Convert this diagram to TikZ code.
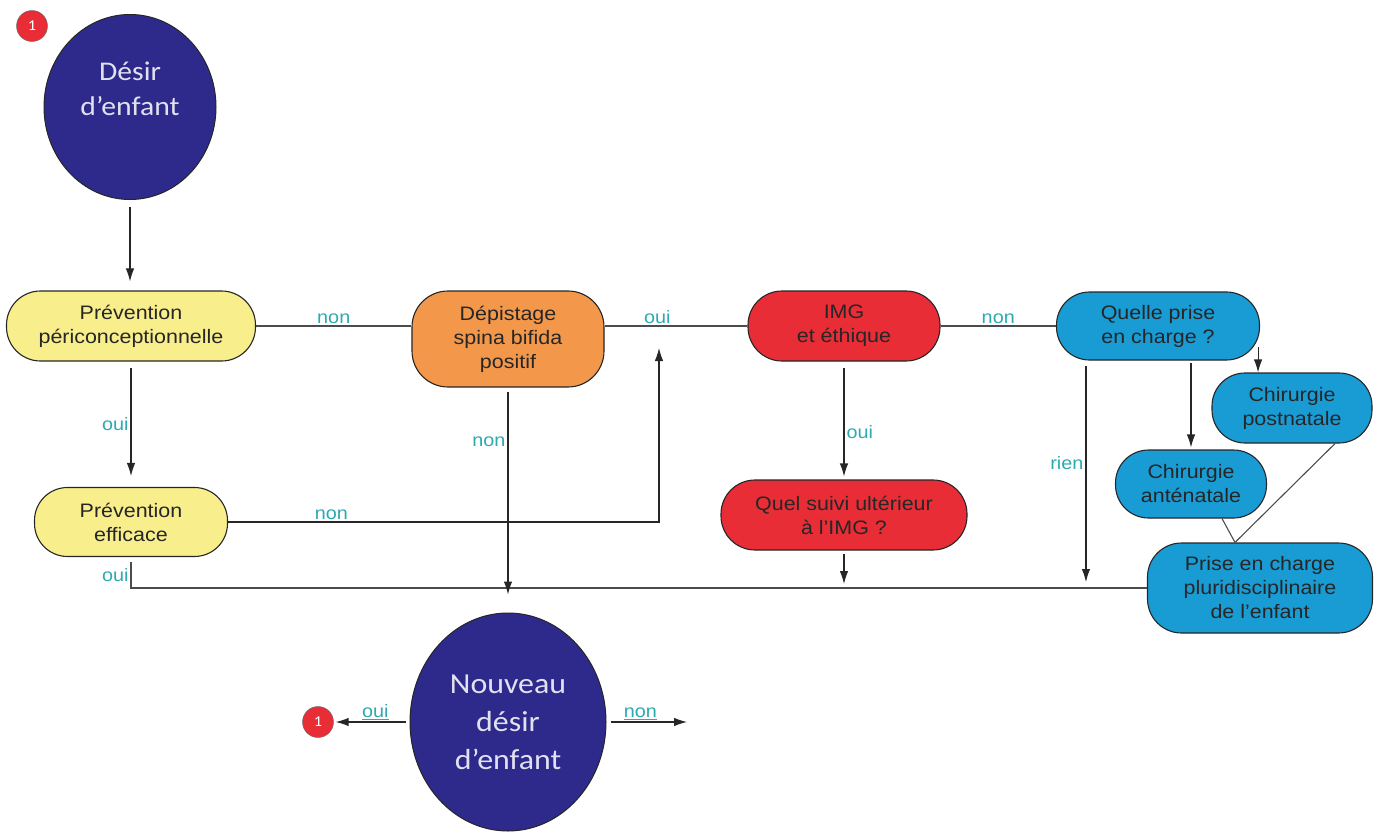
\documentclass[tikz,border=0pt]{standalone}
\usepackage{fontspec}
\setmainfont{Liberation Sans}[FakeStretch=1.1]
\newfontfamily\discfont{Carlito}[FakeStretch=1.1]
\usetikzlibrary{arrows.meta,positioning,shapes.geometric}
\definecolor{nightblue}{RGB}{45,42,140}
\definecolor{paleyellow}{RGB}{248,238,140}
\definecolor{orangebox}{RGB}{243,152,75}
\definecolor{redbox}{RGB}{232,45,55}
\definecolor{bluebox}{RGB}{25,155,212}
\definecolor{tealtext}{RGB}{45,170,175}
\definecolor{discwhite}{RGB}{225,225,240}
\tikzset{
  pill/.style={rectangle,draw=black!85,line width=1.1pt,align=center,
    text=black!85,inner sep=2pt,font=\fontsize{19.5}{24}\selectfont},
  disc/.style={ellipse,draw=black!85,line width=1pt,fill=nightblue,
    text=discwhite,align=center,inner sep=0pt},
  badge/.style={circle,draw=black!60,fill=redbox,text=white,inner sep=0pt,
    minimum size=31pt,font=\discfont\fontsize{15}{15}\selectfont},
  flow/.style={-{Latex[length=13pt,width=8.5pt]},line width=1.1pt,draw=black!85},
  link/.style={line width=1.1pt,draw=black!70},
  answer/.style={text=tealtext,inner sep=2pt,font=\fontsize{18}{18}\selectfont}}

\begin{document}
\begin{tikzpicture}[x=1pt,y=-1pt]
  \useasboundingbox (0,0) rectangle (1378,834);
  \node[disc,minimum width=172pt,minimum height=185pt,
    label={[text=discwhite,align=center,yshift=18pt,
      font=\discfont\fontsize{27}{35}\selectfont]center:Désir\\d’enfant}] (desir) at (130,107) {};
  \node[badge] (one) at (32,26) {1};
  \node[pill,fill=paleyellow,minimum width=249pt,minimum height=70pt,rounded corners=34pt] (peri) at (131,326) {Prévention\\périconceptionnelle};
  \node[pill,fill=paleyellow,minimum width=193pt,minimum height=69pt,rounded corners=33pt] (eff) at (131,522) {Prévention\\efficace};
  \node[pill,fill=orangebox,minimum width=192pt,minimum height=96pt,rounded corners=36pt] (dep) at (508,339) {Dépistage\\spina bifida\\positif};
  \node[pill,fill=redbox,minimum width=192pt,minimum height=70pt,rounded corners=34pt] (img) at (844,326) {IMG\\et éthique};
  \node[pill,fill=redbox,minimum width=246pt,minimum height=70pt,rounded corners=34pt] (suivi) at (844,515) {Quel suivi ultérieur\\à l'IMG ?};
  \node[pill,fill=bluebox,minimum width=203pt,minimum height=68pt,rounded corners=33pt] (quelle) at (1158,326) {Quelle prise\\en charge ?};
  \node[pill,fill=bluebox,minimum width=160pt,minimum height=70pt,rounded corners=33pt] (post) at (1292,408) {Chirurgie\\postnatale};
  \node[pill,fill=bluebox,minimum width=151pt,minimum height=68pt,rounded corners=33pt] (ante) at (1191,484) {Chirurgie\\anténatale};
  \node[pill,fill=bluebox,minimum width=225pt,minimum height=90pt,rounded corners=34pt] (prise) at (1260,588) {Prise en charge\\pluridisciplinaire\\de l'enfant};
  \node[disc,minimum width=196pt,minimum height=218pt,
    font=\discfont\fontsize{29}{38}\selectfont] (nouveau) at (508,722) {Nouveau\\désir\\d’enfant};
  \node[badge] (back) at (318,722) {1};
  \coordinate (merge) at (659,348);
  \coordinate (rientop) at ([xshift=30pt]quelle.south west);
  \coordinate (posttop) at ([shift={(-2,21)}]quelle.east);
  \coordinate (exit) at (687,722);
  \draw[flow,shorten <=7pt,shorten >=9pt] (desir.south) -- (desir.south |- peri.north);
  \draw[link] (peri.east) -- node[answer,above]{non} (peri.east -| dep.west);
  \draw[link] (dep.east |- img.west) -- node[answer,above,pos=0.37]{oui} (img.west);
  \draw[link] (img.east) -- node[answer,above]{non} (quelle.west);
  \draw[flow,shorten <=6pt,shorten >=11pt] (peri.south) -- node[answer,anchor=east,pos=0.5]{oui} (eff.north);
  \draw[flow] (eff.east) -| node[answer,above,pos=0.12]{non} (merge);
  \draw[link,shorten <=5pt] (eff.south) |- node[answer,anchor=east,pos=0.29]{oui} (prise.west);
  \draw[flow,shorten <=4pt,shorten >=18pt] (dep.south) -- node[answer,anchor=east,pos=0.24]{non} (dep.south |- nouveau.north);
  \draw[flow,shorten <=6pt,shorten >=3pt] (img.south) -- node[answer,anchor=west,pos=0.6]{oui} (suivi.north);
  \draw[flow,shorten <=3pt,shorten >=4pt] (suivi.south) -- (suivi.south |- prise.west);
  \draw[flow,shorten <=5pt,shorten >=6pt] (rientop) -- node[answer,anchor=east,pos=0.45]{rien} (rientop |- prise.west);
  \draw[flow,shorten <=2pt,shorten >=2pt] (ante.north |- quelle.south) -- (ante.north);
  \draw[flow] (posttop) -- (posttop |- post.north);
  \draw[link] ([xshift=31pt]ante.south) -- ([xshift=-25pt]prise.north);
  \draw[link] ([xshift=43pt]post.south) -- ([xshift=-25pt]prise.north);
  \draw[flow,shorten <=4pt,shorten >=2pt] (nouveau.west) -- node[answer,above,pos=0.45]{\underline{oui}} (back.east);
  \draw[flow,shorten <=4pt] (nouveau.east) -- node[answer,above,pos=0.42]{\underline{non}} (exit);
\end{tikzpicture}
\end{document}
